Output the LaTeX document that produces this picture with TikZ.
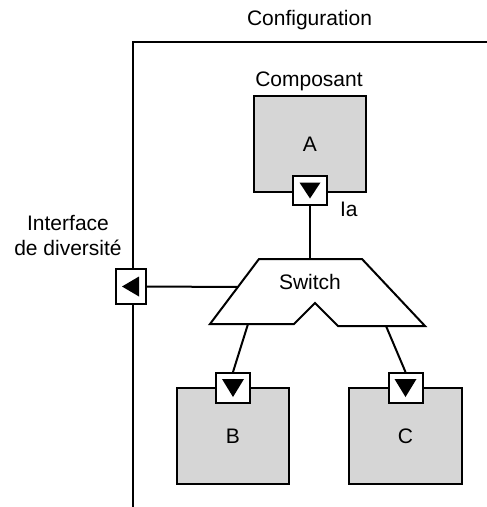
\documentclass[tikz,border=0pt]{standalone}
\usepackage{fontspec}
\setmainfont{Liberation Sans}
\usetikzlibrary{calc}
\definecolor{compgray}{RGB}{214,214,214}
\begin{document}
\begin{tikzpicture}[x=1pt,y=-1pt, line width=2pt, line join=miter,
  comp/.style={draw, fill=compgray, minimum width=112pt, minimum height=96pt, inner sep=0pt, font=\fontsize{21}{25}\selectfont},
  port/.style={draw, fill=white, minimum width=34pt, minimum height=29pt, inner sep=0pt},
  lbl/.style={font=\fontsize{21}{25}\selectfont, inner sep=0pt, align=center},
  tri/.style={fill=black, draw=none}]
\useasboundingbox (0,0) rectangle (487,507);
% frame
\draw[line width=2.5pt] (133,507) -- (133,42) -- (487,42);
\node[lbl, anchor=base] (conf) at (309.5,25) {Configuration};
\node[lbl, anchor=base] (compo) at (309,86) {Composant};
% components
\node[comp] (A) at (310,144) {A};
\node[comp] (B) at (233,436) {B};
\node[comp, minimum width=113pt] (C) at (405.5,436) {C};
% ports
\node[port] (pa) at (310,190.5) {};
\node[port, minimum height=30pt] (pb) at (233,388) {};
\node[port, minimum height=30pt] (pc) at (405.5,388) {};
\node[port, minimum width=30pt, minimum height=35pt] (pd) at (131,286.5) {};
\fill[tri] ($(pa.center)+(-10.5,-8)$) -- ++(21,0) -- ($(pa.center)+(0,8)$) -- cycle;
\fill[tri] ($(pb.center)+(-11,-9)$) -- ++(22,0) -- ($(pb.center)+(0,9)$) -- cycle;
\fill[tri] ($(pc.center)+(-11,-9)$) -- ++(22,0) -- ($(pc.center)+(0,9)$) -- cycle;
\fill[tri] ($(pd.center)+(-9,0)$) -- ($(pd.center)+(8,-10)$) -- ($(pd.center)+(8,10)$) -- cycle;
\node[lbl, anchor=base west] (ia) at (339,216) {Ia};
\node[lbl, anchor=base] (iface) at (68,255) {Interface\\de diversité};
% switch
\draw (259,259) -- (362,259) -- (425,326) -- (338,326) -- (315,303) -- (294,324) -- (210,324) -- cycle;
\node[lbl, anchor=base] (sw) at (310,289) {Switch};
\coordinate (swtop) at (310,259);
\coordinate (swleft) at (238,287);
\coordinate (swbl) at (248,324);
\coordinate (swbr) at (386,326);
% connectors
\draw (pa.south) -- (swtop);
\draw (pd.east) -- (swleft);
\draw (swbl) -- (pb.north);
\draw (swbr) -- (pc.north);
\end{tikzpicture}
\end{document}
